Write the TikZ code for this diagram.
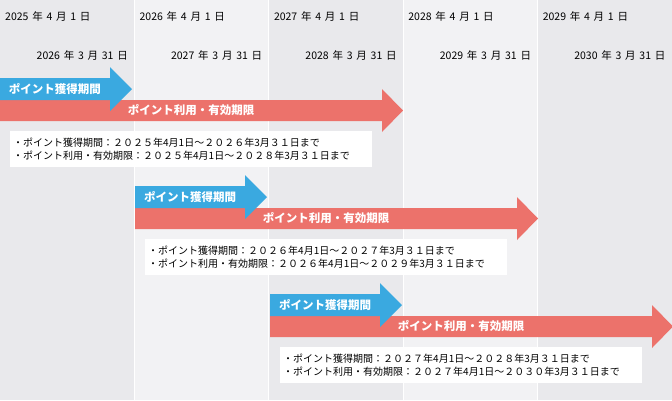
\documentclass[tikz,border=0pt]{standalone}
\usepackage{fontspec}
\setmainfont{Noto Sans CJK JP}
\newfontfamily\datefont[WordSpace=1.6]{Noto Sans CJK JP}
\usepackage{tikz}
\definecolor{colDark}{RGB}{233,233,236}
\definecolor{colLight}{RGB}{242,242,244}
\definecolor{getBlue}{RGB}{58,169,224}
\definecolor{useRed}{RGB}{236,114,107}

\begin{document}
\begin{tikzpicture}[x=1pt, y=-1pt,
    datelbl/.style={font=\datefont\fontsize{10.5}{12}\selectfont, inner sep=0pt},
    barlbl/.style={font=\fontsize{11.5}{13}\selectfont, text=white, inner sep=0pt},
    notebox/.style={fill=white, anchor=north west, inner xsep=3pt, inner ysep=0pt,
        minimum height=36pt, text width=356pt, align=left,
        font=\fontsize{10}{13}\selectfont}]
    \useasboundingbox (0,0) rectangle (672,400);

    % Year columns
    \foreach \c/\col in {0/colDark, 1/colLight, 2/colDark, 3/colLight, 4/colDark}
        \fill[\col] (134.4*\c, 0) rectangle (134.4*\c+134.4, 400);
    \foreach \c in {1,...,4}
        \draw[white, line width=1.2pt] (134.4*\c, 0) -- (134.4*\c, 400);

    % Start / end dates of each year
    \foreach \c in {0,...,4} {
        \pgfmathtruncatemacro\ya{2025+\c}
        \pgfmathtruncatemacro\yb{2026+\c}
        \node[datelbl, anchor=west] (start\c) at (134.4*\c+5, 16) {\ya\ 年 4 月 1 日};
        \node[datelbl, anchor=east] (end\c) at (134.4*\c+128, 55) {\yb\ 年 3 月 31 日};
    }

    % Bars: red (use / validity) first, blue (earning) on top
    \foreach \k/\ya/\yb/\yc in {0/２０２５/２０２６/２０２８, 1/２０２６/２０２７/２０２９, 2/２０２７/２０２８/２０３０} {
        \pgfmathsetmacro\dx{135*\k}
        \pgfmathsetmacro\dy{108*\k}
        \fill[useRed] (\dx, 100+\dy) -- (\dx+382, 100+\dy) -- (\dx+382, 89+\dy)
            -- (\dx+403, 110.5+\dy) -- (\dx+382, 132+\dy) -- (\dx+382, 121+\dy)
            -- (\dx, 121+\dy) -- cycle;
        \fill[getBlue] (\dx, 78+\dy) -- (\dx+110, 78+\dy) -- (\dx+110, 67+\dy)
            -- (\dx+132, 89+\dy) -- (\dx+110, 111+\dy) -- (\dx+110, 100+\dy)
            -- (\dx, 100+\dy) -- cycle;
        \node[barlbl] (get\k) at (\dx+55, 89+\dy) {\bfseries ポイント獲得期間};
        \node[barlbl] (use\k) at (\dx+191, 110.5+\dy) {\bfseries ポイント利用・有効期限};
        % Summary box
        \node[notebox] (note\k) at (\dx+10, 131+\dy)
            {・ポイント獲得期間：\ya 年4月1日～\yb 年3月３１日まで\\
             ・ポイント利用・有効期限：\ya 年4月1日～\yc 年3月３１日まで};
    }
\end{tikzpicture}
\end{document}
